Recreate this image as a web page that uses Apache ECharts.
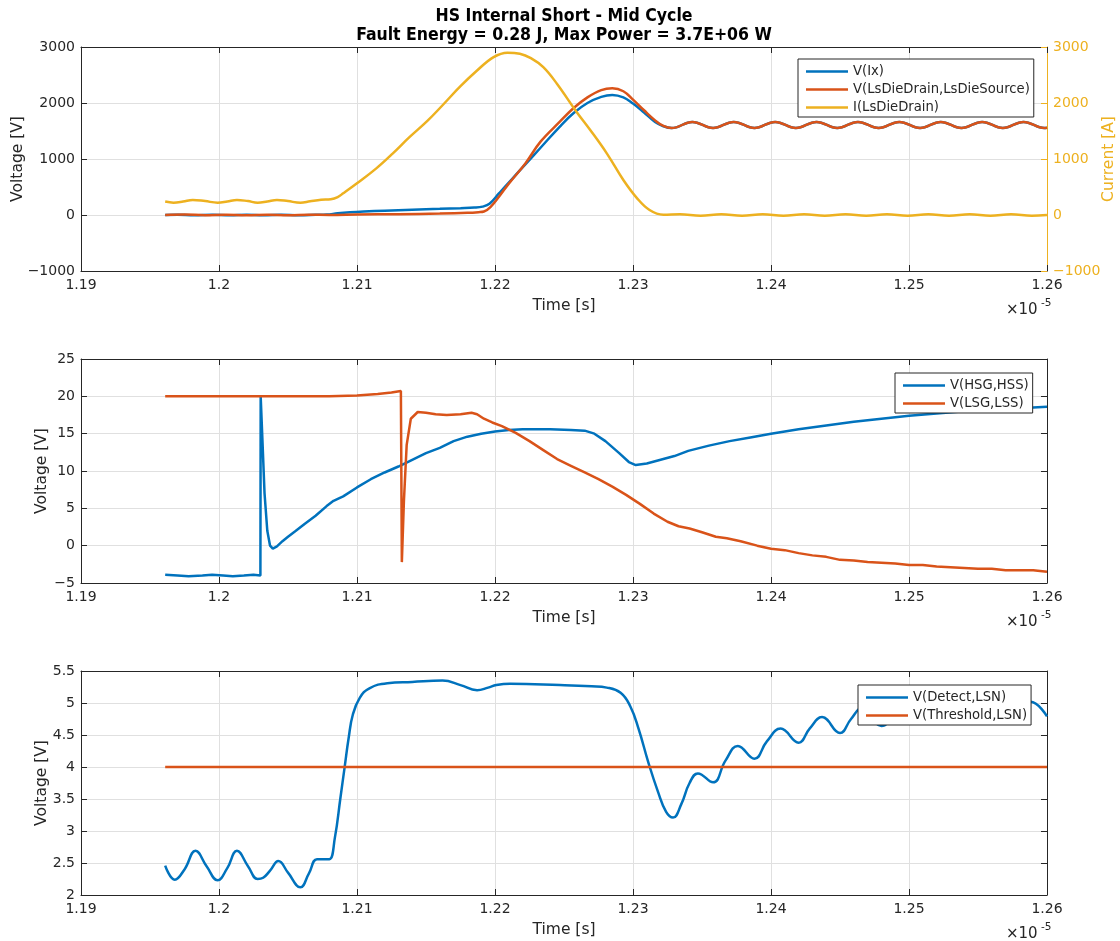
<!DOCTYPE html>
<html>
<head>
<meta charset="utf-8">
<script src="https://cdn.jsdelivr.net/npm/echarts@6/dist/echarts.min.js"></script>
<style>
  html, body { margin: 0; padding: 0; background: #ffffff; }
  #chart { width: 1120px; height: 941px; }
</style>
</head>
<body>
<div id="chart"></div>
<script>
// Time axis is in units of 1e-5 s (the "x10^-5" multiplier is drawn beside the axis).
const timeRange = [1.19, 1.26];
const timeStep = 0.01;

// ---------- Panel 1: drain voltages and drain current ----------
const voltRange1 = [-1000, 3000, 1000];
const currentRange1 = [-1000, 3000, 1000];

const vIx = [
  [1.1961, 0], [1.1970, 6], [1.1982, -4], [1.1995, 5], [1.2008, -5], [1.2020, 4],
  [1.2032, -4], [1.2045, 3], [1.2058, -3], [1.2070, 3], [1.2078, 8], [1.2086, 30],
  [1.2095, 48], [1.2105, 62], [1.2120, 78], [1.2140, 95], [1.2160, 110], [1.2175, 122],
  [1.2185, 132], [1.2191, 150], [1.2196, 200], [1.2203, 389], [1.2212, 633], [1.2222, 904],
  [1.2233, 1201], [1.2247, 1580], [1.2257, 1821], [1.2267, 2000], [1.2277, 2110], [1.2285, 2143],
  [1.2293, 2100], [1.2300, 1990], [1.2308, 1830], [1.2316, 1660], [1.2322, 1585], [1.2328, 1552],
  [1.2343, 1662], [1.2358, 1553], [1.2373, 1662], [1.2388, 1553], [1.2403, 1662], [1.2418, 1553],
  [1.2433, 1662], [1.2448, 1553], [1.2463, 1662], [1.2478, 1553], [1.2493, 1662], [1.2508, 1553],
  [1.2523, 1662], [1.2538, 1553], [1.2553, 1662], [1.2568, 1553], [1.2583, 1662], [1.2598, 1553],
  [1.2600, 1558]
];

const vLsDie = [
  [1.1961, 0], [1.1975, 8], [1.1990, -3], [1.2005, 6], [1.2020, -4], [1.2035, 5],
  [1.2050, -3], [1.2065, 4], [1.2080, 2], [1.2100, 8], [1.2130, 15], [1.2160, 25],
  [1.2180, 38], [1.2188, 50], [1.2192, 62], [1.2197, 150], [1.2203, 330], [1.2210, 560],
  [1.2222, 920], [1.2233, 1310], [1.2247, 1666], [1.2257, 1910], [1.2267, 2100], [1.2277, 2230],
  [1.2285, 2262], [1.2293, 2210], [1.2300, 2060], [1.2308, 1870], [1.2316, 1690], [1.2322, 1590],
  [1.2328, 1552],
  [1.2343, 1662], [1.2358, 1553], [1.2373, 1662], [1.2388, 1553], [1.2403, 1662], [1.2418, 1553],
  [1.2433, 1662], [1.2448, 1553], [1.2463, 1662], [1.2478, 1553], [1.2493, 1662], [1.2508, 1553],
  [1.2523, 1662], [1.2538, 1553], [1.2553, 1662], [1.2568, 1553], [1.2583, 1662], [1.2598, 1553],
  [1.2600, 1558]
];

const iLsDie = [
  [1.1961, 240], [1.1967, 220], [1.1974, 240], [1.1981, 270], [1.1990, 248], [1.1999, 220],
  [1.2006, 242], [1.2013, 270], [1.2021, 248], [1.2028, 220], [1.2035, 242], [1.2042, 270],
  [1.2050, 248], [1.2059, 220], [1.2066, 245], [1.2074, 272], [1.2081, 282], [1.2086, 320],
  [1.2090, 387], [1.2100, 566], [1.2114, 833], [1.2126, 1101], [1.2138, 1390], [1.2151, 1680],
  [1.2162, 1960], [1.2175, 2300], [1.2187, 2580], [1.2199, 2820], [1.2209, 2899], [1.2218, 2880],
  [1.2226, 2800], [1.2235, 2640], [1.2245, 2340], [1.2259, 1845], [1.2269, 1518], [1.2281, 1101],
  [1.2293, 625], [1.2303, 298], [1.2312, 89], [1.2322, 5],
  [1.2334, 14], [1.2349, -14], [1.2364, 14], [1.2379, -14], [1.2394, 14], [1.2409, -14],
  [1.2424, 14], [1.2439, -14], [1.2454, 14], [1.2469, -14], [1.2484, 14], [1.2499, -14],
  [1.2514, 14], [1.2529, -14], [1.2544, 14], [1.2559, -14], [1.2574, 14], [1.2589, -14],
  [1.2600, 0]
];

// ---------- Panel 2: gate-source voltages ----------
const voltRange2 = [-5, 25, 5];

const vHsg = [
  [1.1961, -3.9], [1.1970, -4.0], [1.1978, -4.1], [1.1988, -4.0], [1.1995, -3.9], [1.2003, -4.0],
  [1.2010, -4.1], [1.2018, -4.0], [1.2025, -3.9], [1.20300, -4.0], [1.20302, 20.0], [1.20315, 14.0],
  [1.2033, 7.0], [1.2035, 2.0], [1.2037, 0.0], [1.2039, -0.4], [1.2042, -0.1], [1.2046, 0.6],
  [1.2050, 1.2], [1.2055, 1.9], [1.2062, 2.9], [1.2070, 4.0], [1.2078, 5.3], [1.2083, 6.0],
  [1.2090, 6.6], [1.2100, 7.8], [1.2110, 8.9], [1.2120, 9.8], [1.2130, 10.6], [1.2140, 11.5],
  [1.2150, 12.4], [1.2160, 13.1], [1.2170, 14.0], [1.2180, 14.6], [1.2190, 15.0], [1.2200, 15.3],
  [1.2210, 15.5], [1.2220, 15.6], [1.2230, 15.6], [1.2240, 15.6], [1.2255, 15.5], [1.2265, 15.4],
  [1.2272, 15.0], [1.2280, 14.0], [1.2290, 12.4], [1.2297, 11.2], [1.2302, 10.8], [1.2310, 11.0],
  [1.2320, 11.5], [1.2330, 12.0], [1.2340, 12.7], [1.2355, 13.4], [1.2370, 14.0], [1.2385, 14.5],
  [1.2400, 15.0], [1.2420, 15.6], [1.2440, 16.1], [1.2460, 16.6], [1.2480, 17.0], [1.2500, 17.4],
  [1.2520, 17.7], [1.2540, 18.0], [1.2560, 18.2], [1.2580, 18.4], [1.2600, 18.6]
];

const vLsg = [
  [1.1961, 20.0], [1.2000, 20.0], [1.2040, 20.0], [1.2080, 20.0], [1.2100, 20.1], [1.2115, 20.3],
  [1.2125, 20.5], [1.21318, 20.7], [1.21325, -2.2], [1.2134, 6.0], [1.2136, 13.5], [1.2139, 17.0],
  [1.2144, 17.9], [1.2150, 17.8], [1.2157, 17.6], [1.2165, 17.5], [1.2175, 17.6], [1.2183, 17.8],
  [1.2187, 17.6], [1.2192, 17.0], [1.2198, 16.5], [1.2205, 16.0], [1.2215, 15.1], [1.2225, 14.0],
  [1.2235, 12.8], [1.2245, 11.6], [1.2255, 10.7], [1.2265, 9.8], [1.2275, 8.9], [1.2285, 7.9],
  [1.2295, 6.8], [1.2305, 5.6], [1.2315, 4.3], [1.2325, 3.2], [1.2333, 2.6], [1.2341, 2.3],
  [1.2350, 1.8], [1.2360, 1.2], [1.2368, 1.0], [1.2378, 0.6], [1.2390, 0.0], [1.2400, -0.4],
  [1.2410, -0.6], [1.2420, -1.0], [1.2430, -1.3], [1.2440, -1.5], [1.2450, -1.9], [1.2460, -2.0],
  [1.2470, -2.2], [1.2480, -2.3], [1.2490, -2.4], [1.2500, -2.6], [1.2510, -2.6], [1.2520, -2.8],
  [1.2530, -2.9], [1.2540, -3.0], [1.2550, -3.1], [1.2560, -3.1], [1.2570, -3.3], [1.2580, -3.3],
  [1.2590, -3.3], [1.2600, -3.5]
];

// ---------- Panel 3: detect and threshold ----------
const voltRange3 = [2, 5.5, 0.5];

const vDetect = [
  [1.1961, 2.46], [1.1968, 2.24], [1.1975, 2.40], [1.1983, 2.69], [1.1991, 2.45], [1.1999, 2.23],
  [1.2006, 2.42], [1.2013, 2.69], [1.2021, 2.45], [1.2028, 2.25], [1.2032, 2.27], [1.2037, 2.38],
  [1.2043, 2.53], [1.2050, 2.35], [1.2059, 2.12], [1.2065, 2.33], [1.2071, 2.56], [1.2076, 2.56],
  [1.2080, 2.56], [1.2084, 2.90], [1.2088, 3.52], [1.2091, 3.99], [1.2094, 4.46], [1.2097, 4.82],
  [1.2102, 5.08], [1.2109, 5.23], [1.2122, 5.31], [1.2140, 5.33], [1.2162, 5.35], [1.2175, 5.28],
  [1.2187, 5.20], [1.2195, 5.24], [1.2201, 5.28], [1.2211, 5.30], [1.2247, 5.28], [1.2270, 5.26],
  [1.2281, 5.24], [1.2291, 5.16], [1.2298, 4.95], [1.2304, 4.60], [1.2311, 4.08], [1.2318, 3.62],
  [1.2324, 3.30], [1.2329, 3.21], [1.2335, 3.42], [1.2341, 3.75], [1.2347, 3.90], [1.2358, 3.76],
  [1.2367, 4.10], [1.2376, 4.33], [1.2388, 4.13], [1.2397, 4.40], [1.2407, 4.60], [1.2420, 4.38],
  [1.2428, 4.60], [1.2437, 4.78], [1.2450, 4.53], [1.2458, 4.75], [1.2466, 4.92], [1.2480, 4.64],
  [1.2496, 4.98], [1.2510, 4.70], [1.2526, 5.02], [1.2540, 4.74], [1.2556, 5.03], [1.2570, 4.76],
  [1.2588, 5.02], [1.2600, 4.79]
];

const vThreshold = [[1.1961, 4.0], [1.2600, 4.0]];

// ---------- styling ----------
const FONT = "'DejaVu Sans', 'Liberation Sans', sans-serif";
const TITLE_FONT = "'DejaVu Sans Condensed', 'DejaVu Sans', sans-serif";
const AXIS_COLOR = '#262626';
const GRID_COLOR = '#e0e0e0';
const BLUE = '#0072BD';
const ORANGE = '#D95319';
const YELLOW = '#EDB120';

const gridTops = [47, 359, 671];
const PLOT_H = 224;
const TICK_FONT = 14;
const NAME_FONT = 15.5;

function timeLabel(v) {
  return String(Math.round(v * 100) / 100);
}
function plainLabel(v) {
  const r = Math.round(v * 1000) / 1000;
  return r < 0 ? '\u2212' + String(-r) : String(r);
}

function bottomAxis(gi) {
  return {
    type: 'value', gridIndex: gi, position: 'bottom',
    min: timeRange[0], max: timeRange[1], interval: timeStep,
    name: 'Time [s]', nameLocation: 'middle', nameGap: 27, nameMoveOverlap: false,
    nameTextStyle: { fontFamily: FONT, fontSize: NAME_FONT, color: AXIS_COLOR },
    axisLine: { show: true, onZero: false, lineStyle: { color: AXIS_COLOR, width: 1 } },
    axisTick: { show: true, inside: true, length: 6, lineStyle: { color: AXIS_COLOR } },
    axisLabel: { show: true, margin: 7, fontFamily: FONT, fontSize: TICK_FONT, color: AXIS_COLOR, formatter: timeLabel },
    splitLine: { show: true, lineStyle: { color: GRID_COLOR, width: 1 } }
  };
}
function topAxis(gi) {
  return {
    type: 'value', gridIndex: gi, position: 'top',
    min: timeRange[0], max: timeRange[1], interval: timeStep,
    axisLine: { show: true, onZero: false, lineStyle: { color: AXIS_COLOR, width: 1 } },
    axisTick: { show: true, inside: true, length: 6, lineStyle: { color: AXIS_COLOR } },
    axisLabel: { show: false },
    splitLine: { show: false }
  };
}
function leftAxis(gi, range, nameGap) {
  return {
    type: 'value', gridIndex: gi, position: 'left',
    min: range[0], max: range[1], interval: range[2],
    name: 'Voltage [V]', nameLocation: 'middle', nameGap: nameGap, nameMoveOverlap: false,
    nameTextStyle: { fontFamily: FONT, fontSize: NAME_FONT, color: AXIS_COLOR },
    axisLine: { show: true, onZero: false, lineStyle: { color: AXIS_COLOR, width: 1 } },
    axisTick: { show: true, inside: true, length: 6, lineStyle: { color: AXIS_COLOR } },
    axisLabel: { show: true, margin: 6, fontFamily: FONT, fontSize: TICK_FONT, color: AXIS_COLOR, formatter: plainLabel },
    splitLine: { show: true, lineStyle: { color: GRID_COLOR, width: 1 } }
  };
}
function rightAxis(gi, range, color, showLabels, name) {
  return {
    type: 'value', gridIndex: gi, position: 'right',
    min: range[0], max: range[1], interval: range[2],
    name: name || '', nameLocation: 'middle', nameGap: 54, nameMoveOverlap: false,
    nameTextStyle: { fontFamily: FONT, fontSize: NAME_FONT, color: color },
    axisLine: { show: true, onZero: false, lineStyle: { color: color, width: 1 } },
    axisTick: { show: true, inside: true, length: 6, lineStyle: { color: color } },
    axisLabel: { show: showLabels, margin: 6, fontFamily: FONT, fontSize: TICK_FONT, color: color, formatter: plainLabel },
    splitLine: { show: false }
  };
}

function lineSeries(name, data, color, xi, yi, z, smooth) {
  return {
    name: name, type: 'line', data: data,
    xAxisIndex: xi, yAxisIndex: yi,
    symbol: 'none', showSymbol: false,
    smooth: smooth, z: z,
    lineStyle: { color: color, width: 2.5 },
    itemStyle: { color: color },
    animation: false
  };
}

function legendBox(names, left, top) {
  return {
    data: names, orient: 'vertical', left: left, top: top,
    icon: 'rect', itemWidth: 42, itemHeight: 2.6, itemGap: 5,
    backgroundColor: '#ffffff', borderColor: AXIS_COLOR, borderWidth: 1, borderRadius: 0,
    padding: [6, 4, 3, 8],
    selectedMode: false,
    textStyle: { fontFamily: FONT, fontSize: 13.2, color: AXIS_COLOR },
    z: 10
  };
}

function multiplierText(axisY) {
  return [
    { type: 'text', x: 1006, y: axisY + 39, z: 20,
      style: { text: '\u00d710', fill: AXIS_COLOR, fontFamily: FONT, fontSize: 15, verticalAlign: 'middle', align: 'left' } },
    { type: 'text', x: 1041, y: axisY + 32, z: 20,
      style: { text: '-5', fill: AXIS_COLOR, fontFamily: FONT, fontSize: 10.5, verticalAlign: 'middle', align: 'left' } }
  ];
}

const chart = echarts.init(document.getElementById('chart'), null, { renderer: 'canvas' });

const option = {
  backgroundColor: '#ffffff',
  animation: false,
  grid: gridTops.map(t => ({
    left: 81, right: 73, top: t, height: PLOT_H,
    containLabel: false, outerBoundsMode: 'none'
  })),
  xAxis: [bottomAxis(0), topAxis(0), bottomAxis(1), topAxis(1), bottomAxis(2), topAxis(2)],
  yAxis: [
    leftAxis(0, voltRange1, 55),
    rightAxis(0, currentRange1, YELLOW, true, 'Current [A]'),
    leftAxis(1, voltRange2, 31),
    rightAxis(1, voltRange2, AXIS_COLOR, false),
    leftAxis(2, voltRange3, 31),
    rightAxis(2, voltRange3, AXIS_COLOR, false)
  ],
  legend: [
    legendBox(['V(Ix)', 'V(LsDieDrain,LsDieSource)', 'I(LsDieDrain)'], 798, 59),
    legendBox(['V(HSG,HSS)', 'V(LSG,LSS)'], 895, 373),
    legendBox(['V(Detect,LSN)', 'V(Threshold,LSN)'], 858, 685)
  ],
  series: [
    lineSeries('V(Ix)', vIx, BLUE, 0, 0, 3, 0.4),
    lineSeries('V(LsDieDrain,LsDieSource)', vLsDie, ORANGE, 0, 0, 4, 0.4),
    lineSeries('I(LsDieDrain)', iLsDie, YELLOW, 0, 1, 5, 0.4),
    lineSeries('V(HSG,HSS)', vHsg, BLUE, 2, 2, 3, false),
    lineSeries('V(LSG,LSS)', vLsg, ORANGE, 2, 2, 4, false),
    lineSeries('V(Detect,LSN)', vDetect, BLUE, 4, 4, 3, 0.45),
    lineSeries('V(Threshold,LSN)', vThreshold, ORANGE, 4, 4, 4, false)
  ],
  graphic: [
    { type: 'text', x: 564, y: 16, z: 20,
      style: { text: 'HS Internal Short - Mid Cycle', fill: '#000000',
               fontFamily: TITLE_FONT, fontWeight: 'bold', fontSize: 17.5,
               align: 'center', verticalAlign: 'middle' } },
    { type: 'text', x: 564, y: 35, z: 20,
      style: { text: 'Fault Energy = 0.28 J, Max Power = 3.7E+06 W', fill: '#000000',
               fontFamily: TITLE_FONT, fontWeight: 'bold', fontSize: 17.5,
               align: 'center', verticalAlign: 'middle' } }
  ].concat(multiplierText(271), multiplierText(583), multiplierText(895))
};

chart.setOption(option);
</script>
</body>
</html>
